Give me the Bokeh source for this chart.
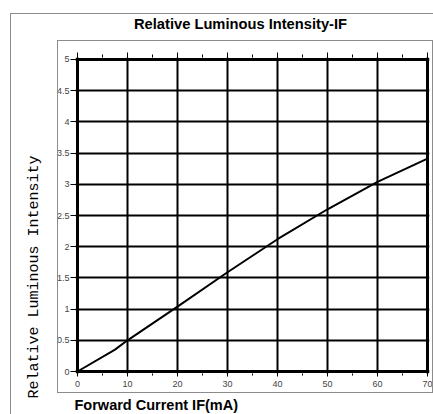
from bokeh.plotting import figure
from bokeh.models import (Range1d, FixedTicker, LinearAxis, Grid, Title,
                          CustomJSTickFormatter, InlineStyleSheet)
from bokeh.embed import file_html
from bokeh.resources import INLINE

# ---- data ----
forward_current = [0, 7.5, 10, 20, 30, 40, 50, 60, 70]
relative_intensity = [0, 0.35, 0.5, 1.04, 1.59, 2.12, 2.6, 3.04, 3.41]

x_ticks = [0, 10, 20, 30, 40, 50, 60, 70]
x_minor = [5, 15, 25, 35, 45, 55, 65]
y_ticks = [0, 0.5, 1, 1.5, 2, 2.5, 3, 3.5, 4, 4.5, 5]
x_inner = [10, 20, 30, 40, 50, 60]
x_edges = [0, 70]
y_inner = [0.5, 1, 1.5, 2, 2.5, 3, 3.5, 4, 4.5]
y_edges = [0, 5]

title_text = "Relative  Luminous  Intensity-IF"
x_label = "Forward  Current IF(mA)"
y_label = "Relative Luminous Intensity"

# decorative gray panel borders (outer panel and inner plot panel)
panel_css = """
:host { position: relative; }
:host::before {
  content: ""; position: absolute; left: 10px; top: 13px; right: 0; bottom: 0;
  border-left: 1px solid #8c8c8c; border-top: 1px solid #8c8c8c;
  pointer-events: none; z-index: 5;
}
:host::after {
  content: ""; position: absolute; left: 57px; top: 40px; width: 374px; height: 351px;
  border: 1px solid #8c8c8c; pointer-events: none; z-index: 5;
}
"""

p = figure(frame_width=354, frame_height=316,
           x_range=Range1d(-0.4, 70.4), y_range=Range1d(-0.032, 5.032),
           output_backend="svg", toolbar_location=None,
           x_axis_location=None, y_axis_location=None,
           min_border_left=75, min_border_top=57, min_border_right=4,
           min_border_bottom=41, outline_line_color=None,
           background_fill_color="white", border_fill_color="white",
           stylesheets=[InlineStyleSheet(css=panel_css)])

# grids
for dim, ticks, w in [(0, x_inner, 2), (0, x_edges, 3), (1, y_inner, 2), (1, y_edges, 3)]:
    p.add_layout(Grid(dimension=dim, ticker=FixedTicker(ticks=ticks),
                      grid_line_color="black", grid_line_width=w))

label_font = "Liberation Sans"
tick_style = dict(axis_line_color=None, major_tick_line_color="black",
                  minor_tick_line_color="black",
                  major_label_text_font=label_font,
                  major_label_text_font_size="9px",
                  major_label_text_color="#444444")

bottom = LinearAxis(ticker=FixedTicker(ticks=x_ticks, minor_ticks=x_minor),
                    major_tick_out=3, major_tick_in=1, minor_tick_out=2,
                    minor_tick_in=0, major_label_standoff=4, **tick_style)
p.add_layout(bottom, "below")

top = LinearAxis(ticker=FixedTicker(ticks=x_ticks, minor_ticks=x_minor),
                 formatter=CustomJSTickFormatter(code="return ''"),
                 major_tick_out=5, major_tick_in=1, minor_tick_out=3,
                 minor_tick_in=0, major_label_standoff=0, **tick_style)
p.add_layout(top, "above")

# invisible spacer above the top ticks (keeps the title up near the outer edge)
spacer = LinearAxis(ticker=FixedTicker(ticks=x_ticks),
                    formatter=CustomJSTickFormatter(code="return ''"),
                    axis_line_color=None, major_tick_line_color=None,
                    minor_tick_line_color=None, major_tick_out=16,
                    major_tick_in=0, minor_tick_out=0, minor_tick_in=0)
p.add_layout(spacer, "above")

left = LinearAxis(ticker=FixedTicker(ticks=y_ticks),
                  formatter=CustomJSTickFormatter(code="return tick.toString()"),
                  major_tick_out=5, major_tick_in=1, minor_tick_out=0,
                  minor_tick_in=0, major_label_standoff=1, **tick_style)
p.add_layout(left, "left")

# curve
p.line(forward_current, relative_intensity, line_color="black", line_width=2)

# titles
p.title.text = title_text
p.title.align = "left"
p.title.offset = 58.5
p.title.text_font = label_font
p.title.text_font_size = "14.7px"
p.title.text_font_style = "bold"
p.title.text_color = "black"

p.add_layout(Title(text=x_label, align="left", offset=-1, text_font=label_font,
                   text_font_size="14.5px", text_font_style="bold",
                   text_color="black"), "below")
p.add_layout(Title(text=y_label, align="left", offset=-25, standoff=22,
                   text_font="Liberation Mono", text_font_size="15px",
                   text_font_style="normal", text_color="black"), "left")

open("out.html", "w").write(file_html(p, INLINE))
